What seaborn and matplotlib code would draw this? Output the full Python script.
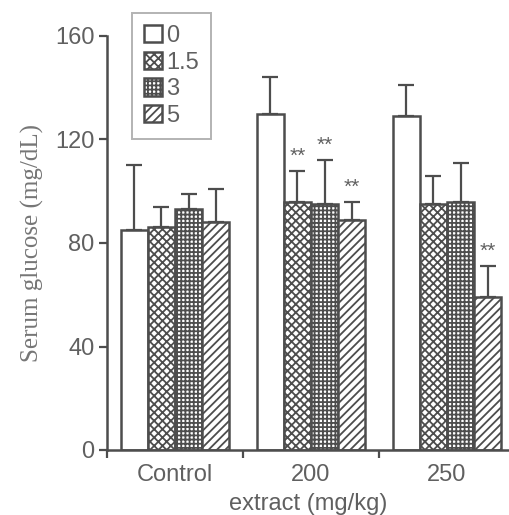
import numpy as np
import matplotlib
matplotlib.use('Agg')
import matplotlib.pyplot as plt
import seaborn as sns
import pandas as pd

# Data
groups = ['Control', '200', '250']
doses = ['0', '1.5', '3', '5']
means = {
    '0':   [85, 130, 129],
    '1.5': [86, 96, 95],
    '3':   [93, 95, 96],
    '5':   [88, 89, 59],
}
errs = {
    '0':   [25, 14, 12],
    '1.5': [8, 12, 11],
    '3':   [6, 17, 15],
    '5':   [13, 7, 12],
}
signif = {
    '0':   [False, False, False],
    '1.5': [False, True, False],
    '3':   [False, True, False],
    '5':   [False, True, True],
}
hatches = ['', 'xxxx', '++++', '////']

rows = []
for d in doses:
    for g, v in zip(groups, means[d]):
        rows.append({'group': g, 'dose': d, 'value': v})
df = pd.DataFrame(rows)

sns.set_style('ticks')
plt.rcParams['font.family'] = ['Liberation Sans', 'DejaVu Sans']
plt.rcParams['hatch.color'] = '#4a4a4a'
plt.rcParams['hatch.linewidth'] = 1.3

edge = '#4d4d4d'
gray_text = '#606060'

fig = plt.figure(figsize=(5.10, 5.15), dpi=100)
ax = fig.add_axes([107/510, 1 - 450/515, 403/510, 414/515])

sns.barplot(data=df, x='group', y='value', hue='dose', order=groups,
            hue_order=doses, width=0.8, errorbar=None, palette=['white']*4,
            edgecolor=edge, linewidth=1.8, ax=ax)

for cont, d, h in zip(ax.containers, doses, hatches):
    xs = []
    for bar in cont:
        bar.set_hatch(h)
        bar.set_facecolor('white')
        bar.set_edgecolor(edge)
        xs.append(bar.get_x() + bar.get_width() / 2)
    xs = np.array(xs)
    m = np.array(means[d])
    e = np.array(errs[d])
    ax.errorbar(xs, m, yerr=[np.zeros_like(e), e], fmt='none', ecolor=edge,
                elinewidth=1.6, capsize=6, capthick=1.6, zorder=1)
    for x, top, s in zip(xs, m + e, signif[d]):
        if s:
            ax.text(x, top + 2, '**', ha='center', va='bottom',
                    fontsize=15, color=gray_text)

ax.set_ylim(0, 160)
ax.set_xlim(-0.5, 2.463)
ax.set_yticks([0, 40, 80, 120, 160])
ax.set_xticks([0, 1, 2])
ax.set_xticklabels(groups)
ax.set_xticks([-0.5, 0.5, 1.5], minor=True)
ax.tick_params(axis='x', which='major', length=0, pad=10, labelsize=17,
               labelcolor=gray_text)
ax.tick_params(axis='x', which='minor', length=6, width=1.6, color=edge)
ax.tick_params(axis='y', length=6, width=1.6, color=edge, pad=3,
               labelsize=17, labelcolor=gray_text)

for s in ['top', 'right']:
    ax.spines[s].set_visible(False)
for s in ['left', 'bottom']:
    ax.spines[s].set_color(edge)
    ax.spines[s].set_linewidth(1.8)

ax.set_xlabel('extract (mg/kg)', fontsize=17, color=gray_text, labelpad=5)
ax.set_ylabel('Serum glucose (mg/dL)', fontsize=18, color='#767676',
              family=['Liberation Serif', 'DejaVu Serif'], labelpad=8)

leg = ax.legend(loc='upper left', bbox_to_anchor=(25/403, 1 + 23/414),
                fontsize=17, frameon=True, fancybox=False, handlelength=0.75,
                handleheight=0.75, handletextpad=0.2, labelspacing=0.2,
                borderpad=0.5, borderaxespad=0)
leg.get_frame().set_edgecolor('#a0a0a0')
leg.get_frame().set_linewidth(1.4)
for t in leg.get_texts():
    t.set_color(gray_text)
for p, h in zip(leg.get_patches(), hatches):
    p.set_hatch(h)
    p.set_edgecolor(edge)
    p.set_facecolor('white')

fig.savefig('out.png', dpi=100)
